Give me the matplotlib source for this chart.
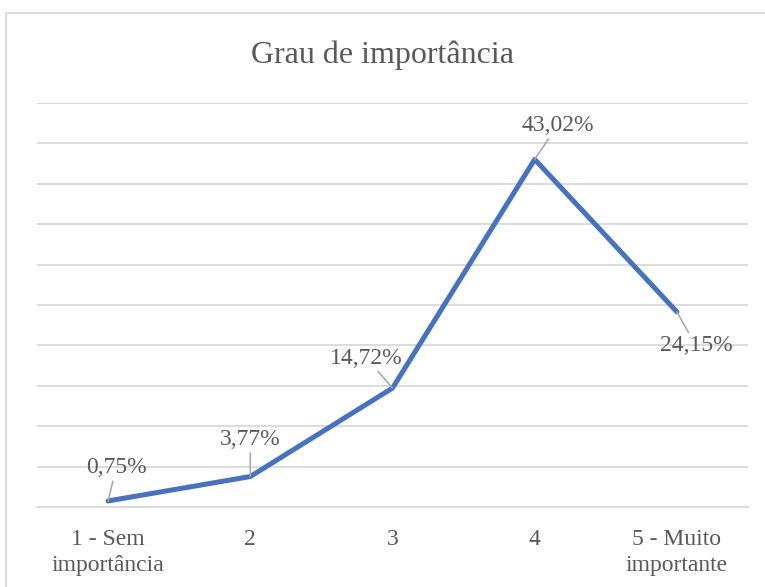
import matplotlib
matplotlib.use("Agg")
import matplotlib.pyplot as plt
from matplotlib.patches import Rectangle

categories = ["1 - Sem\nimportância", "2", "3", "4", "5 - Muito\nimportante"]
values = [0.75, 3.77, 14.72, 43.02, 24.15]
labels = ["0,75%", "3,77%", "14,72%", "43,02%", "24,15%"]
label_offsets = [(8, 33), (0, 37), (-26, 30), (23, 34), (19, -34)]

plt.rcParams['font.family'] = ['Liberation Serif', 'DejaVu Serif']
txt = '#595959'
grid = '#D9D9D9'

fig = plt.figure(figsize=(7.65, 5.87), dpi=100)
W, H = 765, 587
ax = fig.add_axes([37 / W, (H - 507) / H, (748 - 37) / W, (507 - 103) / H])

# chart border
fig.patches.append(Rectangle((6.5 / W, 0 - 0.01), 1.0, (H - 12.5) / H + 0.01,
                             transform=fig.transFigure, fill=False,
                             edgecolor=grid, linewidth=1.3))

x = list(range(len(values)))
ax.plot(x, values, color='#4472C4', linewidth=3.6, solid_capstyle='round',
        solid_joinstyle='round', zorder=3)

ax.set_xlim(-0.5, len(values) - 0.5)
ax.set_ylim(0, 50)
ax.set_yticks(range(0, 51, 5))
ax.yaxis.grid(True, color=grid, linewidth=1.3)
ax.set_axisbelow(True)
ax.tick_params(axis='y', left=False, labelleft=False)
ax.set_xticks(x)
ax.set_xticklabels(categories, fontsize=17, color=txt, linespacing=1.3)
ax.tick_params(axis='x', length=0, pad=16)
for s in ['top', 'left', 'right']:
    ax.spines[s].set_visible(False)
ax.spines['bottom'].set_color(grid)
ax.spines['bottom'].set_linewidth(1.3)
ax.patch.set_alpha(0)

for xi, v, lab, off in zip(x, values, labels, label_offsets):
    ax.annotate(lab, xy=(xi, v), xytext=off, textcoords='offset pixels',
                ha='center', va='center', fontsize=17, color=txt,
                arrowprops=dict(arrowstyle='-', color='#A6A6A6', lw=1.1,
                                shrinkA=0, shrinkB=0), zorder=4)

fig.text(0.5, 1 - 55 / H, "Grau de importância", ha='center', va='center',
         fontsize=23, color=txt)

fig.savefig("out.png", dpi=100)
